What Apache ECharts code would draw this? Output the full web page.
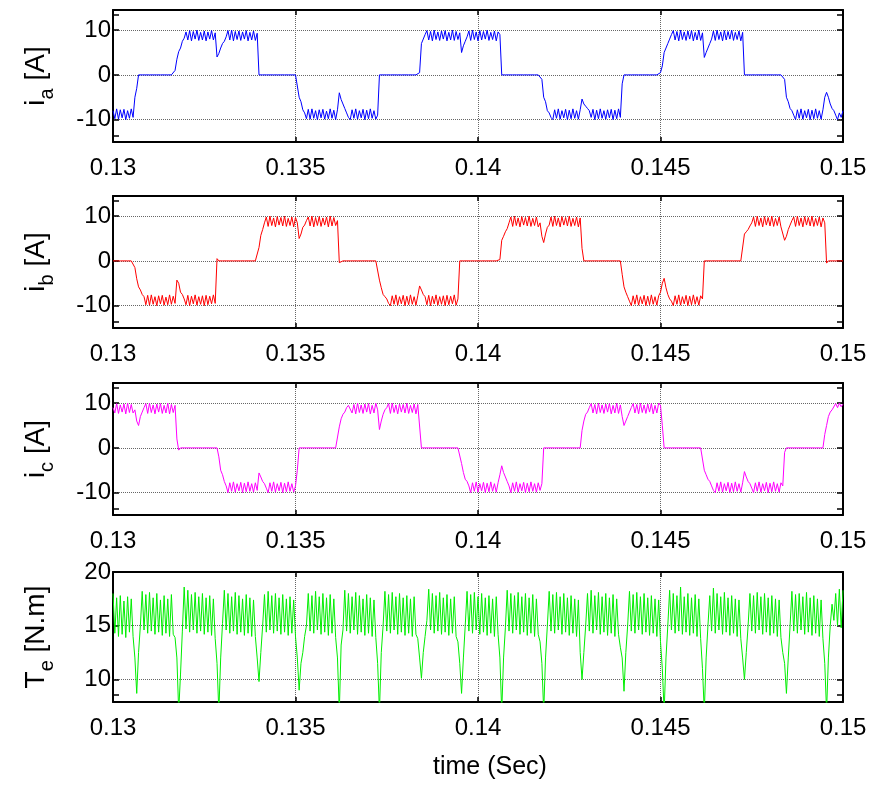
<!DOCTYPE html>
<html>
<head>
<meta charset="utf-8">
<script src="https://cdn.jsdelivr.net/npm/echarts@6/dist/echarts.min.js"></script>
<style>
html,body{margin:0;padding:0;background:#fff;}
#chart{width:885px;height:785px;}
</style>
</head>
<body>
<div id="chart"></div>
<script>
// sample times (s)
const time = [
0.130,0.13005,0.1301,0.13015,0.1302,0.13025,0.1303,0.13035,0.1304,0.13045,0.1305,0.13055,0.1306,0.13065,0.1307,0.13075,0.1308,0.13085,0.1309,0.13095,
0.131,0.13105,0.1311,0.13115,0.1312,0.13125,0.1313,0.13135,0.1314,0.13145,0.1315,0.13155,0.1316,0.13165,0.1317,0.13175,0.1318,0.13185,0.1319,0.13195,
0.132,0.13205,0.1321,0.13215,0.1322,0.13225,0.1323,0.13235,0.1324,0.13245,0.1325,0.13255,0.1326,0.13265,0.1327,0.13275,0.1328,0.13285,0.1329,0.13295,
0.133,0.13305,0.1331,0.13315,0.1332,0.13325,0.1333,0.13335,0.1334,0.13345,0.1335,0.13355,0.1336,0.13365,0.1337,0.13375,0.1338,0.13385,0.1339,0.13395,
0.134,0.13405,0.1341,0.13415,0.1342,0.13425,0.1343,0.13435,0.1344,0.13445,0.1345,0.13455,0.1346,0.13465,0.1347,0.13475,0.1348,0.13485,0.1349,0.13495,
0.135,0.13505,0.1351,0.13515,0.1352,0.13525,0.1353,0.13535,0.1354,0.13545,0.1355,0.13555,0.1356,0.13565,0.1357,0.13575,0.1358,0.13585,0.1359,0.13595,
0.136,0.13605,0.1361,0.13615,0.1362,0.13625,0.1363,0.13635,0.1364,0.13645,0.1365,0.13655,0.1366,0.13665,0.1367,0.13675,0.1368,0.13685,0.1369,0.13695,
0.137,0.13705,0.1371,0.13715,0.1372,0.13725,0.1373,0.13735,0.1374,0.13745,0.1375,0.13755,0.1376,0.13765,0.1377,0.13775,0.1378,0.13785,0.1379,0.13795,
0.138,0.13805,0.1381,0.13815,0.1382,0.13825,0.1383,0.13835,0.1384,0.13845,0.1385,0.13855,0.1386,0.13865,0.1387,0.13875,0.1388,0.13885,0.1389,0.13895,
0.139,0.13905,0.1391,0.13915,0.1392,0.13925,0.1393,0.13935,0.1394,0.13945,0.1395,0.13955,0.1396,0.13965,0.1397,0.13975,0.1398,0.13985,0.1399,0.13995,
0.140,0.14005,0.1401,0.14015,0.1402,0.14025,0.1403,0.14035,0.1404,0.14045,0.1405,0.14055,0.1406,0.14065,0.1407,0.14075,0.1408,0.14085,0.1409,0.14095,
0.141,0.14105,0.1411,0.14115,0.1412,0.14125,0.1413,0.14135,0.1414,0.14145,0.1415,0.14155,0.1416,0.14165,0.1417,0.14175,0.1418,0.14185,0.1419,0.14195,
0.142,0.14205,0.1421,0.14215,0.1422,0.14225,0.1423,0.14235,0.1424,0.14245,0.1425,0.14255,0.1426,0.14265,0.1427,0.14275,0.1428,0.14285,0.1429,0.14295,
0.143,0.14305,0.1431,0.14315,0.1432,0.14325,0.1433,0.14335,0.1434,0.14345,0.1435,0.14355,0.1436,0.14365,0.1437,0.14375,0.1438,0.14385,0.1439,0.14395,
0.144,0.14405,0.1441,0.14415,0.1442,0.14425,0.1443,0.14435,0.1444,0.14445,0.1445,0.14455,0.1446,0.14465,0.1447,0.14475,0.1448,0.14485,0.1449,0.14495,
0.145,0.14505,0.1451,0.14515,0.1452,0.14525,0.1453,0.14535,0.1454,0.14545,0.1455,0.14555,0.1456,0.14565,0.1457,0.14575,0.1458,0.14585,0.1459,0.14595,
0.146,0.14605,0.1461,0.14615,0.1462,0.14625,0.1463,0.14635,0.1464,0.14645,0.1465,0.14655,0.1466,0.14665,0.1467,0.14675,0.1468,0.14685,0.1469,0.14695,
0.147,0.14705,0.1471,0.14715,0.1472,0.14725,0.1473,0.14735,0.1474,0.14745,0.1475,0.14755,0.1476,0.14765,0.1477,0.14775,0.1478,0.14785,0.1479,0.14795,
0.148,0.14805,0.1481,0.14815,0.1482,0.14825,0.1483,0.14835,0.1484,0.14845,0.1485,0.14855,0.1486,0.14865,0.1487,0.14875,0.1488,0.14885,0.1489,0.14895,
0.149,0.14905,0.1491,0.14915,0.1492,0.14925,0.1493,0.14935,0.1494,0.14945,0.1495,0.14955,0.1496,0.14965,0.1497,0.14975,0.1498,0.14985,0.1499,0.14995,
0.150];

// phase current a (A)
const ia = [
-8.0,-9.8,-7.6,-9.9,-7.8,-9.6,-7.7,-10,-8.0,-9.7,-7.6,-9.5,-5.0,-3.0,0,0,0,0,0,0,
0,0,0,0,0,0,0,0,0,0,0,0,0,0,1.0,3.5,5.2,6.0,7.5,8.2,
9.6,7.8,9.9,7.6,9.7,8.0,10,7.7,9.5,7.8,9.8,7.6,9.6,8.0,9.9,7.8,9.4,4.0,4.8,6.0,
7.0,7.5,8.5,9.9,7.8,10,7.6,9.7,7.9,9.8,7.7,9.6,8.0,9.9,7.6,9.5,7.8,9.8,7.7,9.3,
0,0,0,0,0,0,0,0,0,0,0,0,0,0,0,0,0,0,0,0,
0,0,-5.0,-6.0,-7.8,-8.5,-9.8,-7.7,-9.9,-7.6,-9.7,-8.0,-10,-7.8,-9.6,-7.7,-9.9,-8.1,-9.8,-7.6,
-9.7,-7.9,-10,-7.8,-4.0,-5.5,-6.5,-7.5,-8.5,-9.5,-10,-7.8,-9.7,-7.6,-9.9,-8.0,-9.6,-7.7,-10,-7.9,
-9.8,-7.6,-9.7,-8.0,-9.9,-9.0,0,0,0,0,0,0,0,0,0,0,0,0,0,0,
0,0,0,0,0,0,0,0,0.5,7.0,8.0,9.0,9.9,7.8,9.7,7.6,10,7.9,9.6,7.7,
9.8,8.0,9.9,7.6,9.5,7.8,10,7.7,9.7,7.9,9.4,5.0,6.5,7.5,8.5,9.8,7.7,10,7.9,9.6,
7.6,9.9,7.8,9.7,8.0,10,7.7,9.5,7.9,9.8,7.6,9.6,9.0,0,0,0,0,0,0,0,
0,0,0,0,0,0,0,0,0,0,0,0,0,0,0,-1.0,-5.0,-6.0,-8.0,-8.5,
-9.5,-10,-7.8,-9.7,-7.6,-9.9,-8.0,-9.6,-7.7,-10,-7.9,-9.8,-7.6,-9.7,-8.0,-9.9,-7.8,-5.4,-6.5,-7.0,
-7.5,-8.0,-9.5,-7.7,-10,-7.9,-9.8,-7.6,-9.7,-8.0,-9.9,-7.8,-9.6,-7.7,-10,-7.9,-9.8,-7.6,-9.5,-2.0,
0,0,0,0,0,0,0,0,0,0,0,0,0,0,0,0,0,0,0,0,
0.5,2.0,5.0,6.0,7.0,8.0,9.0,9.9,7.8,9.7,7.6,10,7.9,9.6,7.7,9.8,8.0,9.9,7.6,9.5,
7.8,10,7.7,9.4,3.9,5.0,6.0,7.0,8.0,9.8,7.7,10,7.9,9.6,7.6,9.9,7.8,9.7,8.0,10,
7.7,9.5,7.9,9.8,7.6,9.5,0,0,0,0,0,0,0,0,0,0,0,0,0,0,
0,0,0,0,0,0,0,0,-1.0,-5.0,-6.0,-7.5,-8.0,-9.0,-10,-7.8,-9.7,-7.6,-9.9,-8.0,
-9.6,-7.7,-10,-7.9,-9.8,-7.6,-9.7,-8.0,-9.9,-7.8,-5.0,-3.9,-5.0,-6.5,-7.5,-8.0,-9.0,-10,-8.5,-9.5,
-8.0];

// phase current b (A)
const ib = [
0,0,0,0,0,0,0,0,0,0,0,0,-1.5,-4.0,-5.8,-6.5,-7.5,-8.0,-9.8,-7.7,
-9.9,-7.6,-9.7,-8.0,-10,-7.8,-9.6,-7.7,-9.9,-8.1,-9.8,-7.6,-9.7,-7.9,-9.5,-4.3,-5.0,-7.0,-7.5,-8.5,
-9.8,-7.7,-10,-7.9,-9.6,-7.6,-9.9,-8.0,-9.7,-7.8,-10,-7.7,-9.8,-7.9,-9.6,-7.6,-9.5,0.5,0,0,
0,0,0,0,0,0,0,0,0,0,0,0,0,0,0,0,0,0,0,0,
3.0,5.7,7.0,8.5,9.8,7.7,10,7.9,9.6,7.6,9.9,8.0,9.7,7.8,10,7.7,9.5,7.9,9.8,7.6,
9.7,8.5,5.0,6.0,7.5,8.0,9.0,9.8,7.8,10,7.6,9.7,7.9,9.9,7.7,9.6,8.0,9.8,7.6,10,
7.8,9.7,7.9,9.0,-0.4,0,0,0,0,0,0,0,0,0,0,0,0,0,0,0,
0,0,0,0,0,0,-4.3,-6.0,-7.5,-8.0,-8.5,-9.5,-10,-7.8,-9.7,-7.6,-9.9,-8.0,-9.6,-7.7,
-10,-7.9,-9.8,-7.6,-9.7,-8.0,-9.9,-7.8,-5.6,-6.5,-7.5,-8.0,-9.8,-7.7,-10,-7.9,-9.6,-7.6,-9.9,-8.0,
-9.7,-7.8,-10,-7.7,-9.8,-7.9,-9.6,-7.6,-9.9,-8.5,0,0,0,0,0,0,0,0,0,0,
0,0,0,0,0,0,0,0,0,0,0,0,0.3,4.6,5.5,6.5,7.2,8.5,9.8,7.7,
10,7.9,9.6,7.6,9.9,8.0,9.7,7.8,10,7.7,9.5,7.9,9.8,7.6,8.5,5.5,4.1,6.0,7.5,8.0,
9.8,7.7,10,7.9,9.6,7.6,9.9,8.0,9.7,7.8,10,7.7,9.5,7.9,9.8,7.6,9.6,2.8,0,0,
0,0,0,0,0,0,0,0,0,0,0,0,0,0,0,0,0,0,0,-3.0,
-5.8,-7.0,-8.0,-9.0,-10,-7.8,-9.7,-7.6,-9.9,-8.0,-9.6,-7.7,-10,-7.9,-9.8,-7.6,-9.7,-8.0,-9.9,-7.8,
-7.0,-5.0,-3.9,-6.0,-7.5,-8.5,-9.0,-10,-7.8,-9.7,-7.6,-9.9,-8.0,-9.6,-7.7,-10,-7.9,-9.8,-7.6,-9.7,
-8.0,-9.9,-7.8,-8.5,0,0,0,0,0,0,0,0,0,0,0,0,0,0,0,0,
0,0,0,0,0,0,6.0,6.5,7.0,7.8,8.5,9.8,7.7,10,7.9,9.6,7.6,9.9,8.0,9.7,
7.8,10,7.7,9.5,7.9,9.8,7.6,7.5,4.6,5.5,7.0,8.0,9.0,9.8,7.7,10,7.9,9.6,7.6,9.9,
8.0,9.7,7.8,10,7.7,9.5,7.9,9.8,7.6,9.6,8.5,-0.5,0,0,0,0,0,0,0,0,
0];

// phase current c (A)
const ic = [
9.0,7.8,9.9,7.7,9.6,8.0,9.8,7.6,10,7.9,9.7,7.8,8.5,6.0,5.0,7.0,8.0,9.0,9.9,7.7,
10,7.9,9.6,7.6,9.8,8.0,9.9,7.7,9.5,7.8,10,7.6,9.7,7.9,9.5,2.0,-0.5,0,0,0,
0,0,0,0,0,0,0,0,0,0,0,0,0,0,0,0,0,0,-2.0,-5.0,
-6.0,-7.5,-8.5,-10,-7.8,-9.7,-7.6,-9.9,-8.0,-9.6,-7.7,-10,-7.9,-9.8,-7.6,-9.7,-8.0,-9.9,-7.8,-9.5,
-5.6,-6.5,-7.5,-8.0,-9.0,-10,-7.8,-9.7,-7.6,-9.9,-8.0,-9.6,-7.7,-10,-7.9,-9.8,-7.6,-9.7,-8.0,-9.9,
-8.5,-5.0,0,0,0,0,0,0,0,0,0,0,0,0,0,0,0,0,0,0,
0,0,0,0,4.7,6.5,7.5,8.0,9.0,9.5,9.9,7.8,9.7,7.6,10,7.9,9.6,7.7,9.8,8.0,
9.9,7.6,9.5,7.8,10,8.5,4.1,6.0,7.5,8.5,9.0,9.9,7.7,10,7.9,9.6,7.6,9.8,8.0,9.7,
7.8,10,7.7,9.5,7.9,9.8,7.6,9.7,9.5,0,0,0,0,0,0,0,0,0,0,0,
0,0,0,0,0,0,0,0,0,0,0,-3.5,-5.5,-7.0,-7.5,-8.5,-10,-7.8,-9.7,-7.6,
-9.9,-8.0,-9.6,-7.7,-10,-7.9,-9.8,-7.6,-9.7,-8.0,-9.9,-7.8,-6.0,-4.0,-5.5,-6.5,-7.5,-8.5,-10,-7.8,
-9.7,-7.6,-9.9,-8.0,-9.6,-7.7,-10,-7.9,-9.8,-7.6,-9.7,-8.0,-9.9,-7.8,-9.5,-8.0,0,0,0,0,
0,0,0,0,0,0,0,0,0,0,0,0,0,0,0,0,0,3.9,6.0,7.5,
8.0,9.0,9.9,7.8,9.7,7.6,10,7.9,9.6,7.7,9.8,8.0,9.9,7.6,9.5,7.8,10,7.7,9.6,7.0,
5.0,6.0,7.0,8.0,9.0,9.9,7.8,9.7,7.6,10,7.9,9.6,7.7,9.8,8.0,9.9,7.6,9.5,7.8,10,
9.5,5.0,0,0,0,0,0,0,0,0,0,0,0,0,0,0,0,0,0,0,
0,0,0,0,-5.0,-6.0,-7.0,-7.5,-8.5,-9.5,-10,-7.8,-9.7,-7.6,-9.9,-8.0,-9.6,-7.7,-10,-7.9,
-9.8,-7.6,-9.7,-8.0,-9.9,-7.8,-5.3,-6.5,-7.5,-8.0,-9.0,-10,-7.8,-9.7,-7.6,-9.9,-8.0,-9.6,-7.7,-10,
-7.9,-9.8,-7.6,-9.7,-8.0,-9.9,-7.8,-8.5,-1.0,0,0,0,0,0,0,0,0,0,0,0,
0,0,0,0,0,0,0,0,0,0,3.0,5.0,7.0,8.0,8.5,8.8,9.9,9.0,10,9.2,
9.8];

// electromagnetic torque (N.m)
const te = [
18.0,14.3,17.6,14.0,17.8,14.2,17.3,13.9,17.7,14.4,17.5,14.0,12.0,8.7,12.5,15.0,18.2,14.6,17.9,14.3,
18.1,14.5,17.6,14.2,18.0,14.4,17.4,14.1,17.8,14.3,17.5,14.0,17.9,14.2,13.9,12.0,7.0,10.5,14.5,18.6,
14.7,18.3,14.4,17.9,14.6,18.1,14.3,17.7,14.5,18.0,14.2,17.6,14.4,17.8,14.1,17.5,13.8,11.5,7.0,12.0,
15.2,18.3,14.6,18.0,14.3,17.7,14.5,18.1,14.2,17.8,14.4,17.5,14.1,17.9,14.3,17.6,14.0,17.4,14.0,12.0,
9.8,12.5,15.0,17.9,14.4,18.2,14.6,17.8,14.3,18.0,14.5,17.6,14.2,17.9,14.4,17.5,14.1,17.7,14.3,17.4,
14.0,12.0,9.0,11.5,12.5,14.0,15.0,18.0,14.5,17.8,14.3,18.2,14.6,17.7,14.2,18.0,14.4,17.6,14.1,17.9,
14.3,17.5,13.9,12.0,7.0,13.2,14.6,18.3,14.5,18.0,14.3,17.7,14.6,18.1,14.2,17.8,14.4,17.5,14.1,17.9,
14.3,17.6,14.0,17.4,13.9,11.5,7.0,12.5,15.0,18.2,14.5,17.9,14.3,18.1,14.6,17.7,14.2,18.0,14.4,17.6,
14.1,17.8,14.3,17.5,14.0,17.7,14.2,13.8,12.0,10.1,12.5,14.0,15.5,18.4,14.6,18.0,14.3,17.8,14.5,18.1,
14.2,17.6,14.4,17.9,14.1,17.5,14.3,17.7,14.0,13.5,11.5,8.7,12.0,15.0,18.2,14.5,17.9,14.3,18.1,14.6,
17.7,14.2,18.0,14.4,17.6,14.1,17.8,14.3,17.5,14.0,17.7,14.2,12.0,7.0,12.0,14.8,18.3,14.5,18.0,14.3,
17.8,14.6,18.1,14.2,17.7,14.4,18.0,14.1,17.6,14.3,17.9,14.0,17.5,14.2,13.5,11.5,7.0,12.0,15.0,18.2,
14.5,17.9,14.3,18.1,14.6,17.7,14.2,18.0,14.4,17.6,14.1,17.8,14.3,17.5,14.0,17.4,12.5,10.0,12.5,15.0,
18.0,14.5,18.3,14.3,17.8,14.6,18.1,14.2,17.7,14.4,18.0,14.1,17.6,14.3,17.9,14.0,17.5,14.2,13.0,12.0,
8.9,12.5,15.0,18.2,14.5,17.9,14.3,18.1,14.6,17.7,14.2,18.0,14.4,17.6,14.1,17.8,14.3,17.5,14.0,17.4,
13.5,11.0,7.0,12.0,15.0,18.3,14.6,18.0,14.3,17.8,14.5,18.6,14.2,17.7,14.4,18.0,14.1,17.6,14.3,17.9,
14.0,17.5,13.8,11.0,7.0,12.0,15.0,17.8,14.5,18.5,14.3,18.0,14.6,17.7,14.2,18.1,14.4,17.6,14.1,17.8,
14.3,17.5,14.0,17.4,13.8,12.0,10.0,12.5,15.0,18.0,14.5,17.8,14.3,18.1,14.6,17.7,14.2,18.0,14.4,17.6,
14.1,17.8,14.3,17.5,14.0,17.4,13.9,12.5,11.5,8.7,12.0,15.0,18.2,14.5,17.9,14.3,18.0,14.6,17.7,14.2,
18.1,14.4,17.6,14.1,17.8,14.3,17.5,14.0,17.4,13.8,11.5,7.0,12.0,15.0,17.0,15.5,18.0,15.0,18.4,14.8,
18.3];

const currentTicks = [-10, 0, 10];
const currentEdgeTicks = [-13.5, 13.5];
const torqueTicks = [10, 15, 20];
const torqueEdgeTicks = [8.6];

const FONT = 'Liberation Sans, Arial, Helvetica, sans-serif';
const panels = [
  {name: '{m|i}{s|a}{m| [A]}', y: ia, color: '#0000ff', min: -15, max: 14.5, ticks: currentTicks, edge: currentEdgeTicks, top: 10, height: 132},
  {name: '{m|i}{s|b}{m| [A]}', y: ib, color: '#ff0000', min: -15, max: 14.5, ticks: currentTicks, edge: currentEdgeTicks, top: 196, height: 132},
  {name: '{m|i}{s|c}{m| [A]}', y: ic, color: '#ff00ff', min: -15, max: 14.5, ticks: currentTicks, edge: currentEdgeTicks, top: 383, height: 132},
  {name: '{m|T}{s|e}{m| [N.m]}', y: te, color: '#00ee00', min: 7.9, max: 20, ticks: torqueTicks, edge: torqueEdgeTicks, top: 572, height: 130}
];

const grids = [], xAxes = [], yAxes = [], series = [];
const gridLine = {show: true, lineStyle: {color: '#666', width: 1, type: [1, 1]}};
const tickStyle = {color: '#000', width: 1.5};
panels.forEach((p, i) => {
  grids.push({left: 113, width: 730, top: p.top, height: p.height, show: false});
  xAxes.push({
    type: 'value', gridIndex: i, position: 'bottom', min: 0.13, max: 0.15, interval: 0.005,
    axisLine: {show: true, onZero: false, lineStyle: {color: '#000', width: 2}},
    axisTick: {show: true, inside: true, length: 5, lineStyle: tickStyle},
    axisLabel: {show: true, color: '#000', fontSize: 24, fontFamily: FONT, margin: 14,
      formatter: v => String(+v.toFixed(4))},
    splitLine: gridLine
  });
  xAxes.push({
    type: 'value', gridIndex: i, position: 'top', min: 0.13, max: 0.15, interval: 0.005,
    axisLine: {show: true, onZero: false, lineStyle: {color: '#000', width: 2}},
    axisTick: {show: true, inside: true, length: 5, lineStyle: tickStyle},
    axisLabel: {show: false}, splitLine: {show: false}
  });
  const base = yAxes.length;
  yAxes.push({
    type: 'value', gridIndex: i, position: 'left', min: p.min, max: p.max,
    name: p.name, nameLocation: 'middle', nameRotate: 90, nameGap: 56,
    nameTextStyle: {
      rich: {
        m: {fontSize: 28, fontFamily: FONT, color: '#000', verticalAlign: 'top', lineHeight: 29},
        s: {fontSize: 20, fontFamily: FONT, color: '#000', verticalAlign: 'top', padding: [15, 0, 0, 0]}
      }
    },
    axisLine: {show: true, onZero: false, lineStyle: {color: '#000', width: 2}},
    axisTick: {show: true, inside: true, length: 6, customValues: p.ticks, lineStyle: tickStyle},
    axisLabel: {show: true, color: '#000', fontSize: 24, fontFamily: FONT, margin: 2, customValues: p.ticks},
    splitLine: gridLine
  });
  yAxes.push({
    type: 'value', gridIndex: i, position: 'right', min: p.min, max: p.max,
    axisLine: {show: true, onZero: false, lineStyle: {color: '#000', width: 2}},
    axisTick: {show: true, inside: true, length: 6, customValues: p.ticks.concat(p.edge), lineStyle: tickStyle},
    axisLabel: {show: false}, splitLine: {show: false}
  });
  // extra left-edge tick marks near the panel limits
  yAxes.push({
    type: 'value', gridIndex: i, position: 'left', min: p.min, max: p.max,
    axisLine: {show: false},
    axisTick: {show: true, inside: true, length: 6, customValues: p.edge, lineStyle: tickStyle},
    axisLabel: {show: false}, splitLine: {show: false}
  });
  series.push({
    type: 'line', xAxisIndex: 2 * i, yAxisIndex: base,
    data: time.map((t, k) => [t, p.y[k]]),
    showSymbol: false, symbol: 'none', clip: true,
    lineStyle: {color: p.color, width: 1}, itemStyle: {color: p.color}
  });
});

const chart = echarts.init(document.getElementById('chart'), null, {renderer: 'canvas'});
chart.setOption({
  backgroundColor: '#fff',
  animation: false,
  grid: grids,
  xAxis: xAxes,
  yAxis: yAxes,
  series: series,
  graphic: [{
    type: 'text', left: 433, top: 755,
    style: {text: 'time (Sec)', fontSize: 25, fontFamily: FONT, fill: '#000'}
  }]
});
</script>
</body>
</html>
